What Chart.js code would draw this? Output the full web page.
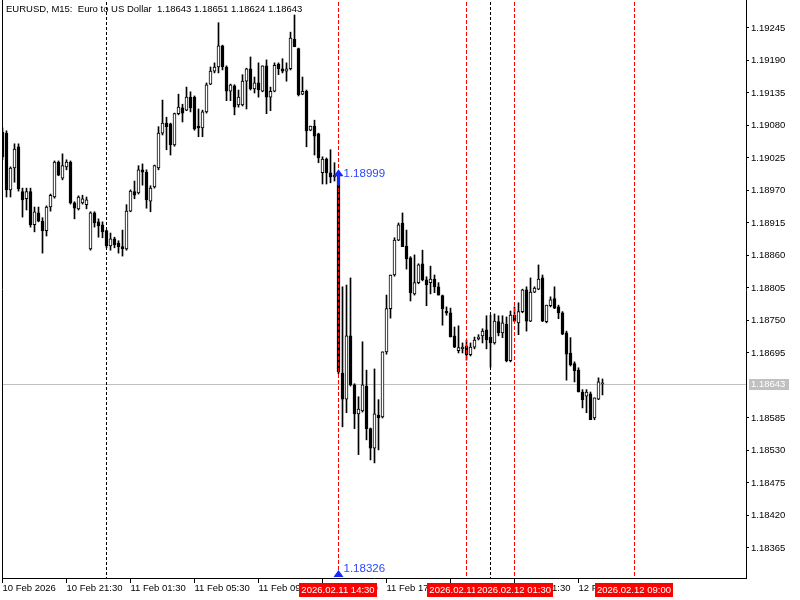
<!DOCTYPE html>
<html><head><meta charset="utf-8">
<script src="https://cdn.jsdelivr.net/npm/chart.js@4/dist/chart.umd.min.js"></script>
<style>html,body{margin:0;padding:0;background:#fff}canvas{display:block}</style>
</head><body>
<canvas id="c" width="800" height="600"></canvas>
<script>
// ---- data (bar index of first candle = -1, M15 candles) ----
const FIRST_BAR = -1;
const openP = [
1.19069,1.19067,1.18971,1.19008,1.19044,1.18968,1.18956,1.18968,1.18912,1.18932,
1.18918,1.18902,1.18942,1.18959,1.19018,1.18991,1.19010,1.19018,1.18949,1.18939,
1.18949,1.18946,1.18871,1.18932,1.18917,1.18912,1.18902,1.18876,1.18888,1.18881,
1.18875,1.18871,1.18935,1.18968,1.18966,1.19005,1.19001,1.18952,1.18976,1.19008,
1.19067,1.19084,1.19083,1.19047,1.19100,1.19110,1.19106,1.19128,1.19128,1.19079,
1.19076,1.19103,1.19150,1.19172,1.19179,1.19215,1.19179,1.19138,1.19147,1.19115,
1.19115,1.19155,1.19176,1.19142,1.19152,1.19138,1.19181,1.19128,1.19138,1.19184,
1.19176,1.19172,1.19176,1.19226,1.19210,1.19133,1.19138,1.19072,1.19079,1.19066,
1.19000,1.19023,1.19000,1.18993,1.18995,1.18661,1.18617,1.18724,1.18641,1.18592,
1.18597,1.18639,1.18567,1.18534,1.18590,1.18587,1.18697,1.18770,1.18827,1.18886,
1.18915,1.18876,1.18856,1.18795,1.18814,1.18846,1.18819,1.18814,1.18820,1.18807,
1.18792,1.18766,1.18763,1.18724,1.18699,1.18702,1.18707,1.18692,1.18705,1.18719,
1.18724,1.18734,1.18722,1.18712,1.18748,1.18729,1.18744,1.18682,1.18759,1.18746,
1.18765,1.18802,1.18749,1.18798,1.18803,1.18822,1.18748,1.18775,1.18787,1.18773,
1.18763,1.18729,1.18695,1.18677,1.18666,1.18629,1.18622,1.18626,1.18585,1.18617,
1.18643];
const highP = [
1.19076,1.19071,1.19010,1.19049,1.19049,1.18974,1.18974,1.18974,1.18942,1.18942,
1.18924,1.18944,1.18964,1.19020,1.19020,1.19032,1.19022,1.19020,1.18951,1.18961,
1.18962,1.18959,1.18934,1.18934,1.18922,1.18917,1.18903,1.18898,1.18891,1.18885,
1.18903,1.18946,1.18971,1.18986,1.19012,1.19015,1.19005,1.18978,1.19013,1.19078,
1.19123,1.19094,1.19084,1.19101,1.19133,1.19116,1.19145,1.19137,1.19130,1.19108,
1.19106,1.19152,1.19179,1.19186,1.19254,1.19216,1.19181,1.19150,1.19149,1.19140,
1.19166,1.19177,1.19196,1.19162,1.19186,1.19181,1.19191,1.19145,1.19186,1.19186,
1.19193,1.19186,1.19238,1.19267,1.19211,1.19162,1.19140,1.19079,1.19089,1.19067,
1.19027,1.19025,1.19039,1.19017,1.18999,1.18807,1.18810,1.18822,1.18643,1.18621,
1.18714,1.18666,1.18568,1.18668,1.18616,1.18697,1.18793,1.18827,1.18890,1.18915,
1.18932,1.18903,1.18858,1.18861,1.18846,1.18869,1.18824,1.18842,1.18827,1.18814,
1.18793,1.18773,1.18771,1.18739,1.18741,1.18712,1.18717,1.18712,1.18722,1.18726,
1.18736,1.18758,1.18759,1.18761,1.18758,1.18758,1.18756,1.18766,1.18773,1.18780,
1.18803,1.18807,1.18822,1.18807,1.18844,1.18827,1.18776,1.18790,1.18807,1.18776,
1.18765,1.18732,1.18721,1.18680,1.18670,1.18633,1.18633,1.18629,1.18619,1.18653,
1.18651];
const lowP = [
1.19022,1.18959,1.18959,1.18984,1.18969,1.18925,1.18937,1.18908,1.18900,1.18917,
1.18864,1.18893,1.18935,1.18957,1.18995,1.18988,1.19005,1.18947,1.18922,1.18937,
1.18947,1.18939,1.18869,1.18908,1.18891,1.18890,1.18873,1.18869,1.18873,1.18864,
1.18859,1.18869,1.18934,1.18956,1.18964,1.18979,1.18940,1.18934,1.18974,1.19005,
1.19064,1.19039,1.19030,1.19045,1.19098,1.19086,1.19105,1.19103,1.19072,1.19061,
1.19061,1.19101,1.19149,1.19169,1.19169,1.19174,1.19122,1.19122,1.19098,1.19111,
1.19113,1.19108,1.19140,1.19135,1.19128,1.19137,1.19100,1.19105,1.19137,1.19166,
1.19169,1.19155,1.19174,1.19225,1.19130,1.19132,1.19044,1.19071,1.19030,1.19017,
1.18981,1.18981,1.18983,1.18986,1.18660,1.18570,1.18594,1.18639,1.18567,1.18523,
1.18595,1.18548,1.18514,1.18509,1.18531,1.18585,1.18693,1.18754,1.18825,1.18885,
1.18875,1.18837,1.18783,1.18793,1.18812,1.18817,1.18775,1.18795,1.18797,1.18793,
1.18742,1.18759,1.18722,1.18704,1.18695,1.18695,1.18683,1.18690,1.18702,1.18717,
1.18712,1.18702,1.18671,1.18710,1.18724,1.18721,1.18680,1.18680,1.18748,1.18726,
1.18763,1.18732,1.18748,1.18797,1.18802,1.18748,1.18746,1.18773,1.18770,1.18753,
1.18726,1.18649,1.18673,1.18646,1.18629,1.18602,1.18594,1.18582,1.18582,1.18616,
1.18624];
const closeP = [
1.19027,1.18971,1.19008,1.19040,1.18973,1.18954,1.18968,1.18912,1.18934,1.18918,
1.18902,1.18942,1.18962,1.19018,1.18996,1.19012,1.19018,1.18949,1.18940,1.18959,
1.18956,1.18954,1.18932,1.18915,1.18910,1.18900,1.18876,1.18888,1.18878,1.18875,
1.18871,1.18935,1.18969,1.18962,1.19005,1.19001,1.18954,1.18974,1.19012,1.19067,
1.19084,1.19078,1.19047,1.19100,1.19111,1.19101,1.19128,1.19110,1.19074,1.19076,
1.19103,1.19149,1.19172,1.19179,1.19215,1.19179,1.19138,1.19149,1.19111,1.19128,
1.19155,1.19176,1.19142,1.19152,1.19140,1.19181,1.19128,1.19138,1.19182,1.19176,
1.19172,1.19176,1.19228,1.19213,1.19132,1.19138,1.19071,1.19079,1.19062,1.19025,
1.19023,1.19000,1.18993,1.18996,1.18663,1.18617,1.18724,1.18641,1.18592,1.18600,
1.18641,1.18567,1.18534,1.18592,1.18585,1.18697,1.18770,1.18827,1.18886,1.18912,
1.18875,1.18854,1.18797,1.18814,1.18844,1.18819,1.18810,1.18820,1.18807,1.18793,
1.18770,1.18763,1.18722,1.18705,1.18704,1.18705,1.18692,1.18705,1.18717,1.18722,
1.18732,1.18717,1.18712,1.18749,1.18729,1.18746,1.18682,1.18759,1.18749,1.18765,
1.18802,1.18749,1.18798,1.18805,1.18820,1.18749,1.18776,1.18785,1.18771,1.18763,
1.18727,1.18693,1.18675,1.18665,1.18629,1.18616,1.18629,1.18582,1.18619,1.18646,
1.18643];

const yTickValues = [1.19245,1.19190,1.19135,1.19080,1.19025,1.18970,1.18915,1.18860,1.18805,1.18750,1.18695,1.18585,1.18530,1.18475,1.18420,1.18365];
const timeTickBars = [-1,15,31,47,63,79,95,111,127,143];
const timeTickLabels = ['10 Feb 2026','10 Feb 21:30','11 Feb 01:30','11 Feb 05:30','11 Feb 09:30','11 Feb 13:30','11 Feb 17:30','11 Feb 21:30','12 Feb 01:30','12 Feb 05:30'];
const daySeparatorBars = [25,121];
const markerBars = [83,115,127,157];
const markerLabels = ['2026.02.11 14:30','2026.02.11 22:30','2026.02.12 01:30','2026.02.12 09:00'];
const titleText = 'EURUSD, M15:  Euro to US Dollar  1.18643 1.18651 1.18624 1.18643';
const currentPrice = 1.18643;
const arrowBar = 83, arrowPrice = 1.18999, lowMarkPrice = 1.18326;
const Y_MIN = 1.183142, Y_MAX = 1.19289;

const FONT = '"Liberation Sans", Arial, sans-serif';

const bodyData = openP.map((o,k)=>({x:FIRST_BAR+k, y:[o, closeP[k]]}));
const wickData = lowP.map((l,k)=>({x:FIRST_BAR+k, y:[l, highP[k]]}));
const bodyColors = openP.map((o,k)=> closeP[k] < o ? '#000000' : '#ffffff');

function colX(scale, b){ return Math.floor(scale.getPixelForValue(b)) + 0.5; }

const overlay = {
  id:'overlay',
  beforeDatasetsDraw(chart){
    const {ctx, chartArea:a, scales:{x,y}} = chart;
    ctx.save();
    ctx.beginPath(); ctx.rect(a.left,a.top,a.right-a.left,a.bottom-a.top); ctx.clip();
    const py = Math.round(y.getPixelForValue(currentPrice)) + 0.5;
    ctx.strokeStyle = '#c0c0c0'; ctx.lineWidth = 1;
    ctx.beginPath(); ctx.moveTo(a.left,py); ctx.lineTo(a.right,py); ctx.stroke();
    ctx.strokeStyle = '#000'; ctx.setLineDash([3,2]);
    daySeparatorBars.forEach(b=>{
      const px = colX(x,b);
      ctx.beginPath(); ctx.moveTo(px,a.top); ctx.lineTo(px,a.bottom); ctx.stroke();
    });
    ctx.restore();
  },
  afterDatasetsDraw(chart){
    const {ctx, chartArea:a, scales:{x,y}} = chart;
    ctx.save();
    ctx.beginPath(); ctx.rect(a.left,a.top,a.right-a.left,a.bottom-a.top); ctx.clip();
    ctx.strokeStyle = '#ff0000'; ctx.lineWidth = 1; ctx.setLineDash([4,2]);
    markerBars.forEach(b=>{
      const px = colX(x,b);
      ctx.beginPath(); ctx.moveTo(px,a.top); ctx.lineTo(px,a.bottom); ctx.stroke();
    });
    ctx.setLineDash([]);
    ctx.fillStyle = '#000'; ctx.font = '9.5px ' + FONT; ctx.textBaseline = 'middle'; ctx.textAlign = 'left';
    ctx.fillText(titleText, 6, 9.5);
    const cx = colX(x, arrowBar);
    const ay = y.getPixelForValue(arrowPrice);
    ctx.fillStyle = '#1428ff';
    ctx.beginPath();
    ctx.moveTo(cx, ay-4); ctx.lineTo(cx+5, ay+3); ctx.lineTo(cx+1.5, ay+3); ctx.lineTo(cx+1.5, ay+12);
    ctx.lineTo(cx-1.5, ay+12); ctx.lineTo(cx-1.5, ay+3); ctx.lineTo(cx-5, ay+3); ctx.closePath(); ctx.fill();
    ctx.fillStyle = '#2a46ff'; ctx.font = '11.5px ' + FONT;
    ctx.fillText(arrowPrice.toFixed(5), cx+5, ay);
    const ly = y.getPixelForValue(lowMarkPrice);
    ctx.fillStyle = '#1428ff';
    ctx.beginPath(); ctx.moveTo(cx, ly-1); ctx.lineTo(cx+5, ly+6); ctx.lineTo(cx-5, ly+6); ctx.closePath(); ctx.fill();
    ctx.fillStyle = '#2a46ff';
    ctx.fillText(lowMarkPrice.toFixed(5), cx+5, ly-2);
    ctx.restore();
  },
  afterDraw(chart){
    const {ctx, chartArea:a, scales:{x,y}} = chart;
    ctx.save();
    ctx.strokeStyle = '#000'; ctx.lineWidth = 1;
    ctx.beginPath(); ctx.moveTo(a.left+0.5, 0); ctx.lineTo(a.left+0.5, a.bottom+1); ctx.stroke();
    ctx.beginPath(); ctx.moveTo(a.right+0.5, 0); ctx.lineTo(a.right+0.5, a.top); ctx.stroke();
    ctx.font = '9.5px ' + FONT; ctx.textBaseline = 'middle'; ctx.textAlign = 'center';
    markerBars.forEach((b,k)=>{
      const px = Math.floor(x.getPixelForValue(b));
      ctx.fillStyle = '#ff0000';
      ctx.fillRect(px-39, a.bottom+5, 78, 14);
      ctx.fillStyle = '#ffffff';
      ctx.fillText(markerLabels[k], px, a.bottom+12);
    });
    const py = Math.round(y.getPixelForValue(currentPrice));
    ctx.fillStyle = '#c0c0c0';
    ctx.fillRect(a.right+3, py-5, 40, 11);
    ctx.fillStyle = '#ffffff'; ctx.textAlign = 'left';
    ctx.fillText(currentPrice.toFixed(5), a.right+5, py+0.5);
    ctx.restore();
  }
};

new Chart(document.getElementById('c'), {
  type:'bar',
  data:{ datasets:[
    {label:'body', data:bodyData, backgroundColor:bodyColors, borderColor:'#000000', borderWidth:1,
     borderSkipped:false, barThickness:3, grouped:false, order:0, minBarLength:1},
    {label:'wick', data:wickData, backgroundColor:'#000000', borderWidth:0,
     barThickness:1, grouped:false, order:1}
  ]},
  options:{
    responsive:false, animation:false, devicePixelRatio:1,
    layout:{padding:{left:2, top:2, right:0, bottom:0}},
    plugins:{legend:{display:false}, tooltip:{enabled:false}},
    scales:{
      x:{type:'linear', min:-1.125, max:184.875, offset:false,
         grid:{drawOnChartArea:false, drawTicks:true, tickLength:5, color:'#000', offset:false},
         border:{display:true, color:'#000'},
         afterBuildTicks:(s)=>{ s.ticks = timeTickBars.map(v=>({value:v})); },
         afterFit:(s)=>{ s.height = 22; s.paddingLeft = 0; s.paddingRight = 0; },
         ticks:{autoSkip:false, maxRotation:0, minRotation:0, align:'start', padding:0, color:'#000',
                font:{family:FONT, size:9.5},
                callback:(v)=>{ const k = timeTickBars.indexOf(v); return k>=0 ? timeTickLabels[k] : ''; }}},
      y:{type:'linear', position:'right', min:Y_MIN, max:Y_MAX,
         grid:{drawOnChartArea:false, drawTicks:true, tickLength:3, color:'#000'},
         border:{display:true, color:'#000'},
         afterBuildTicks:(s)=>{ s.ticks = yTickValues.map(v=>({value:v})); },
         afterFit:(s)=>{ s.width = 54; s.paddingTop = 0; s.paddingBottom = 0; },
         ticks:{padding:2, color:'#000', font:{family:FONT, size:9.5},
                callback:(v)=> Number(v).toFixed(5)}}
    }
  },
  plugins:[overlay]
});
</script>
</body></html>
